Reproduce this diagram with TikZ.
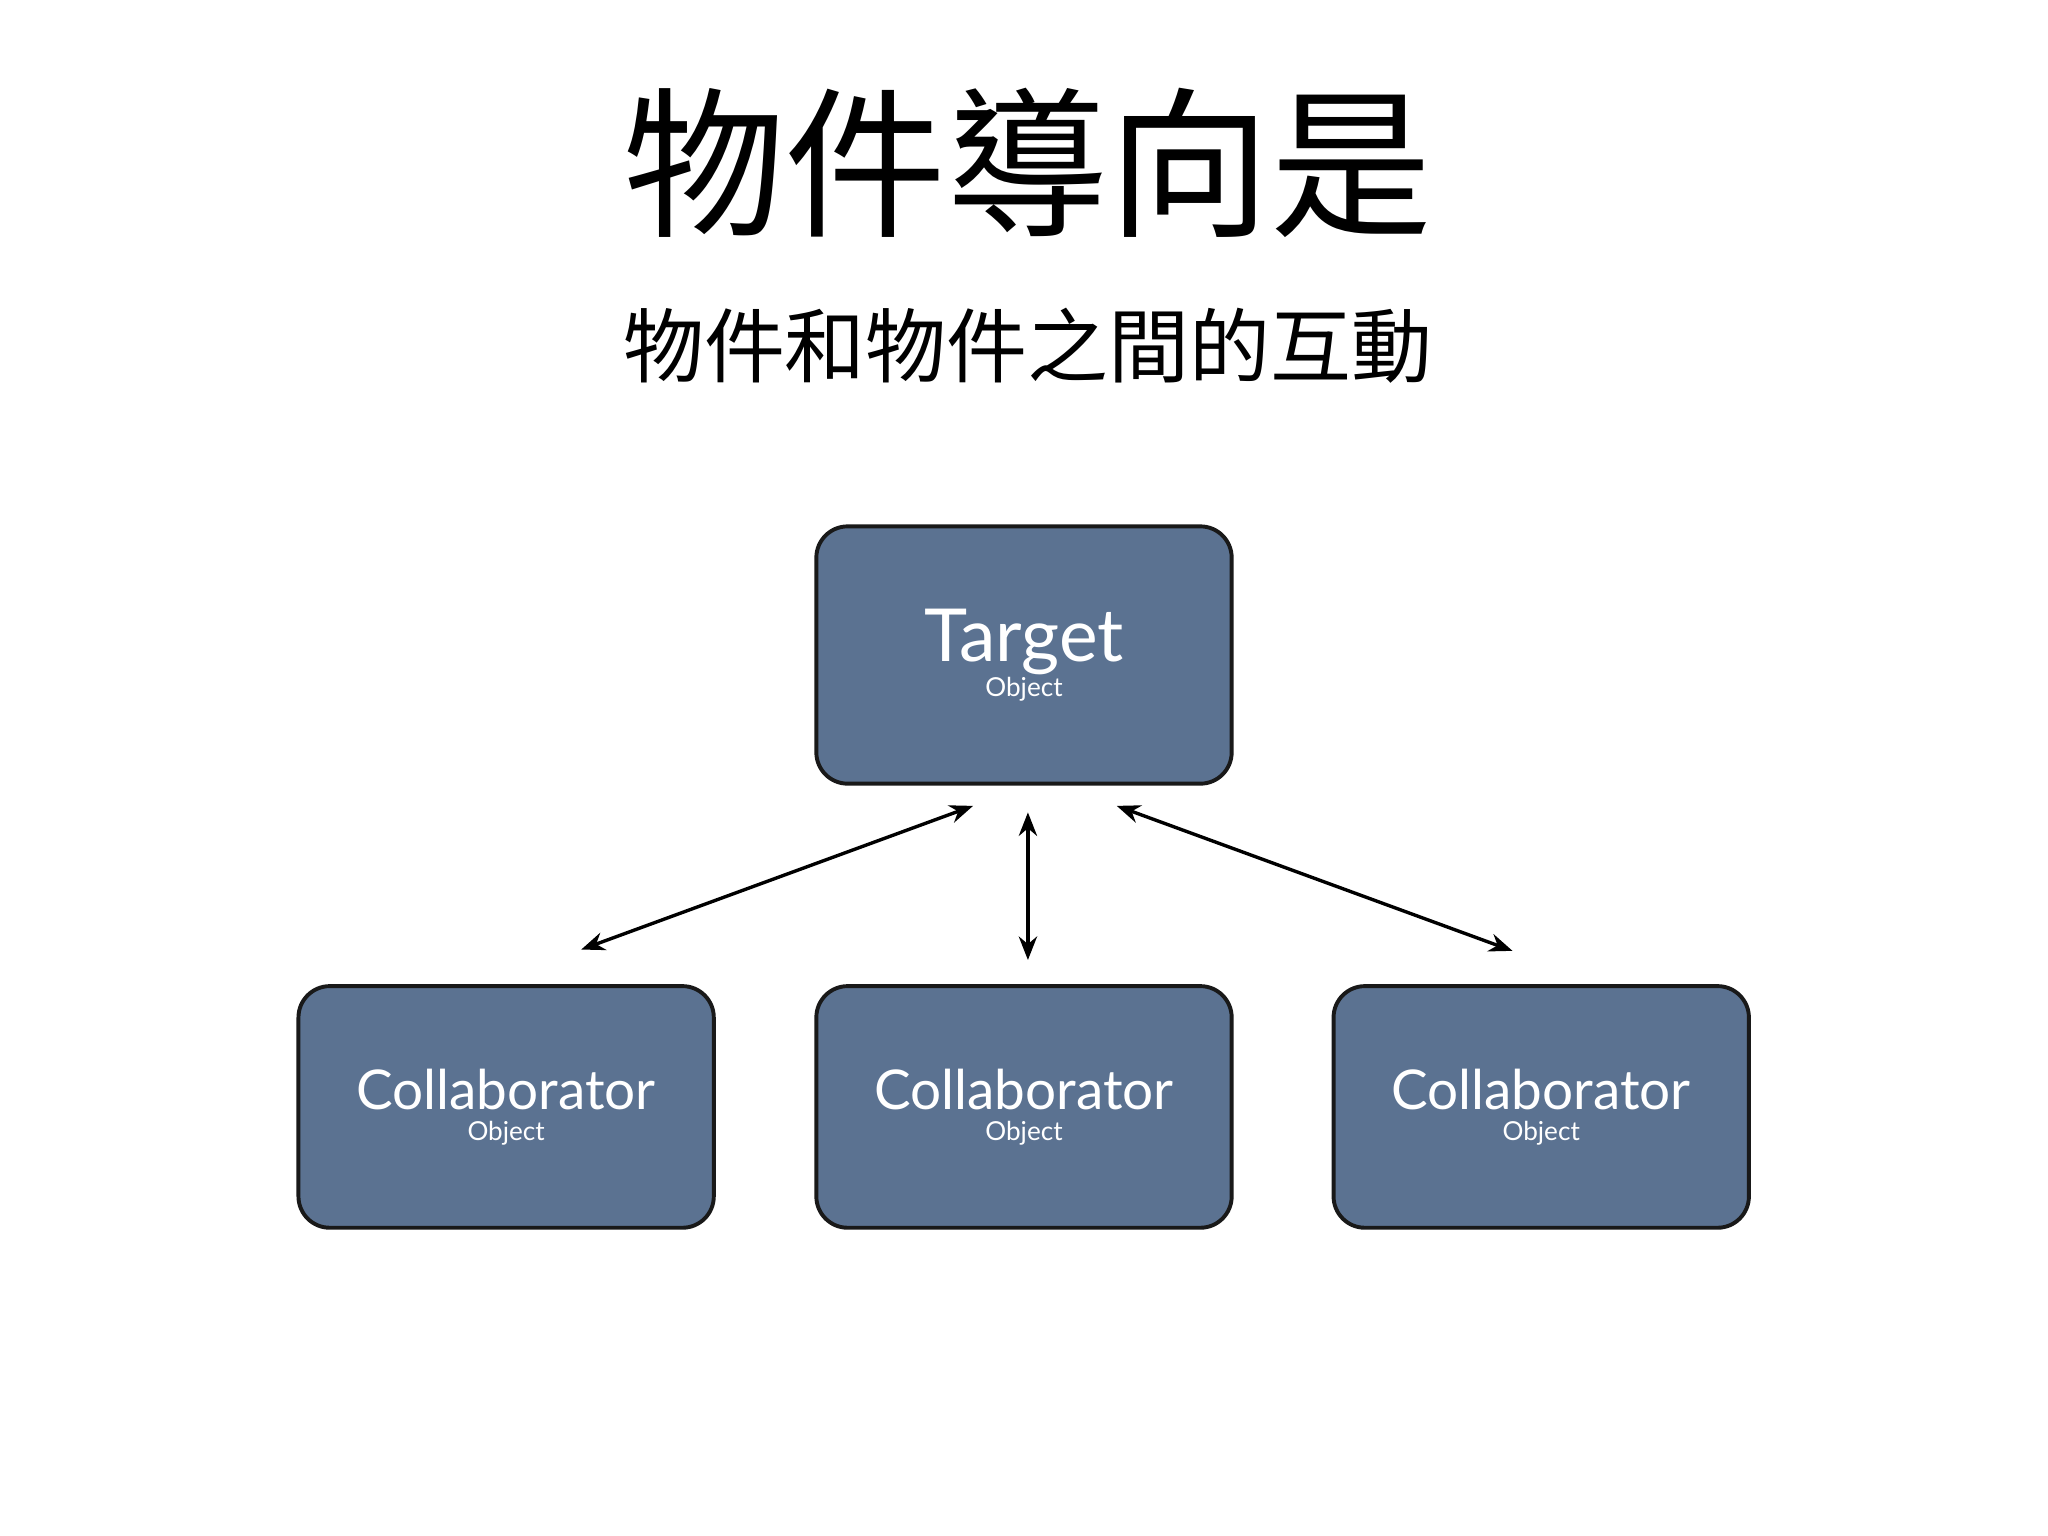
\documentclass[tikz,border=0pt]{standalone}
\usepackage{fontspec}
\setmainfont{Lato}
\newfontfamily\cjk{Noto Sans CJK TC}
\usetikzlibrary{arrows.meta,shadows}
\definecolor{boxblue}{HTML}{5B7291}
\tikzset{
  obj/.style={draw=black!90, line width=1.5pt, fill=boxblue, rounded corners=12pt,
    text=white, align=center, inner sep=0pt},
  conn/.style={line width=1.3pt, {Stealth[length=9pt,width=7pt]}-{Stealth[length=9pt,width=7pt]}}
}
\begin{document}
\begin{tikzpicture}[x=0.5pt,y=-0.5pt]
\useasboundingbox (0,0) rectangle (1568,1176);
\node (title) at (787,125) {\cjk\fontsize{62}{70}\selectfont 物件導向是};
\node (sub) at (787,265) {\cjk\fontsize{31}{36}\selectfont 物件和物件之間的互動};
\node[obj, minimum width=159pt, minimum height=98.5pt] (t) at (784,501.5)
  {\fontsize{28}{34}\selectfont Target\\Object};
\foreach \n/\x in {a/387.5,b/784,c/1180}{
\node[obj, minimum width=159pt, minimum height=92.5pt] (\n) at (\x,847.5)
  {\fontsize{21}{26}\selectfont Collaborator\\Object};
}
\coordinate (t1) at (745,617); \coordinate (a1) at (445,727);
\coordinate (t2) at (787,622); \coordinate (b1) at (787,735);
\coordinate (t3) at (855,617); \coordinate (c1) at (1158,728);
\draw[conn] (t1) -- (a1);
\draw[conn] (t2) -- (b1);
\draw[conn] (t3) -- (c1);
\end{tikzpicture}
\end{document}
